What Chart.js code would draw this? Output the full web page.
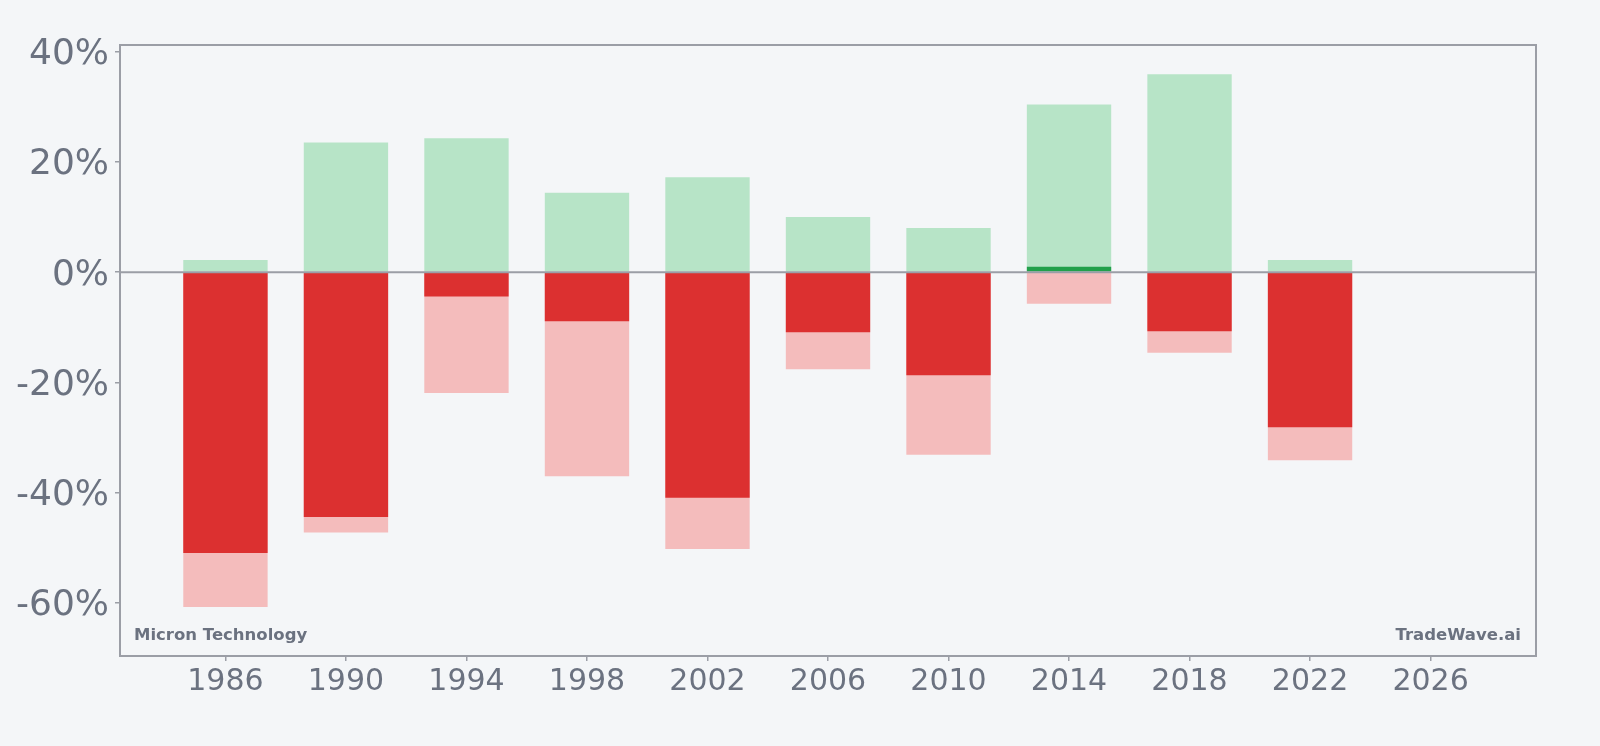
<!DOCTYPE html>
<html>
<head>
<meta charset="utf-8">
<script src="https://cdn.jsdelivr.net/npm/chart.js@4"></script>
<style>
  html, body { margin: 0; padding: 0; background: #f4f6f8; }
  #wrap { width: 1600px; height: 746px; }
</style>
</head>
<body>
<div id="wrap"><canvas id="ReturnChart" width="1600" height="746"></canvas></div>
<script>
(function () {
  "use strict";

  // data (percent)
  const years       = [1986, 1990, 1994, 1998, 2002, 2006, 2010, 2014, 2018, 2022];
  const maxGain     = [2.2, 23.5, 24.3, 14.4, 17.2, 10.0, 8.0, 30.4, 35.9, 2.2];
  const maxDrawdown = [-60.7, -47.2, -21.9, -37.0, -50.2, -17.6, -33.1, -5.7, -14.6, -34.1];
  const yearReturn  = [-50.9, -44.4, -4.4, -8.9, -40.9, -10.9, -18.7, 1.0, -10.7, -28.1];
  const xTicks      = [1986, 1990, 1994, 1998, 2002, 2006, 2010, 2014, 2018, 2022, 2026];
  const yTicks      = [-60, -40, -20, 0, 20, 40];

  // colors
  const text_gray    = '#6b7280';
  const axis_gray    = '#9b9ea6';
  const green_light  = '#b7e4c7';
  const green_dark   = '#22a04b';
  const red_light    = '#f4bcbc';
  const red_dark     = '#dc3030';

  const pts = (arr) => years.map((y, i) => ({ x: y, y: arr[i] }));

  // frame, zero line and the two labels
  const framePlugin = {
    id: 'frame',
    afterDatasetsDraw(chart) {
      const { ctx, chartArea: a, scales } = chart;
      const y0 = scales.y.getPixelForValue(0);
      ctx.save();
      ctx.strokeStyle = axis_gray;
      ctx.lineWidth = 2;
      ctx.beginPath();
      ctx.moveTo(a.left, y0);
      ctx.lineTo(a.right, y0);
      ctx.stroke();
      ctx.strokeRect(a.left, a.top, a.right - a.left, a.bottom - a.top);
      ctx.fillStyle = text_gray;
      ctx.font = 'bold 16.5px "DejaVu Sans"';
      ctx.textBaseline = 'alphabetic';
      ctx.textAlign = 'left';
      ctx.fillText('Micron Technology', a.left + 14, a.bottom - 16);
      ctx.textAlign = 'right';
      ctx.fillText('TradeWave.ai', a.right - 15, a.bottom - 16);
      ctx.restore();
    }
  };

  const common = {
    grouped: false,
    categoryPercentage: 1.0,
    barPercentage: 0.7,
    borderWidth: 0
  };

  new Chart(document.getElementById('ReturnChart').getContext('2d'), {
    type: 'bar',
    data: {
      datasets: [
        Object.assign({
          label: 'Year return',
          data: pts(yearReturn),
          backgroundColor: (c) => (c.raw && c.raw.y >= 0 ? green_dark : red_dark)
        }, common),
        Object.assign({
          label: 'Max gain',
          data: pts(maxGain),
          backgroundColor: green_light
        }, common),
        Object.assign({
          label: 'Max drawdown',
          data: pts(maxDrawdown),
          backgroundColor: red_light
        }, common)
      ]
    },
    options: {
      responsive: false,
      animation: false,
      layout: { padding: { left: 0, right: 64, top: 45, bottom: 0 } },
      plugins: {
        legend: { display: false },
        tooltip: { enabled: false }
      },
      scales: {
        x: {
          type: 'linear',
          min: 1982.5,
          max: 2029.5,
          offset: false,
          border: { display: false },
          grid: { offset: false, drawOnChartArea: false, drawTicks: true, tickLength: 5, color: axis_gray, lineWidth: 1.5 },
          afterBuildTicks: (s) => { s.ticks = xTicks.map(v => ({ value: v })); },
          afterFit: (s) => { s.height = 90; },
          ticks: {
            autoSkip: false,
            maxRotation: 0,
            padding: 3,
            color: text_gray,
            font: { family: 'DejaVu Sans', size: 30 },
            callback: (v) => String(v)
          }
        },
        y: {
          min: -69.6,
          max: 41.2,
          border: { display: false },
          grid: { drawOnChartArea: false, drawTicks: true, tickLength: 5, color: axis_gray, lineWidth: 1.5 },
          afterBuildTicks: (s) => { s.ticks = yTicks.map(v => ({ value: v })); },
          afterFit: (s) => { s.width = 120; },
          ticks: {
            padding: 6,
            labelOffset: 3,
            color: text_gray,
            font: { family: 'DejaVu Sans', size: 36 },
            callback: (v) => v + '%'
          }
        }
      }
    },
    plugins: [framePlugin]
  });
})();
</script>
</body>
</html>
